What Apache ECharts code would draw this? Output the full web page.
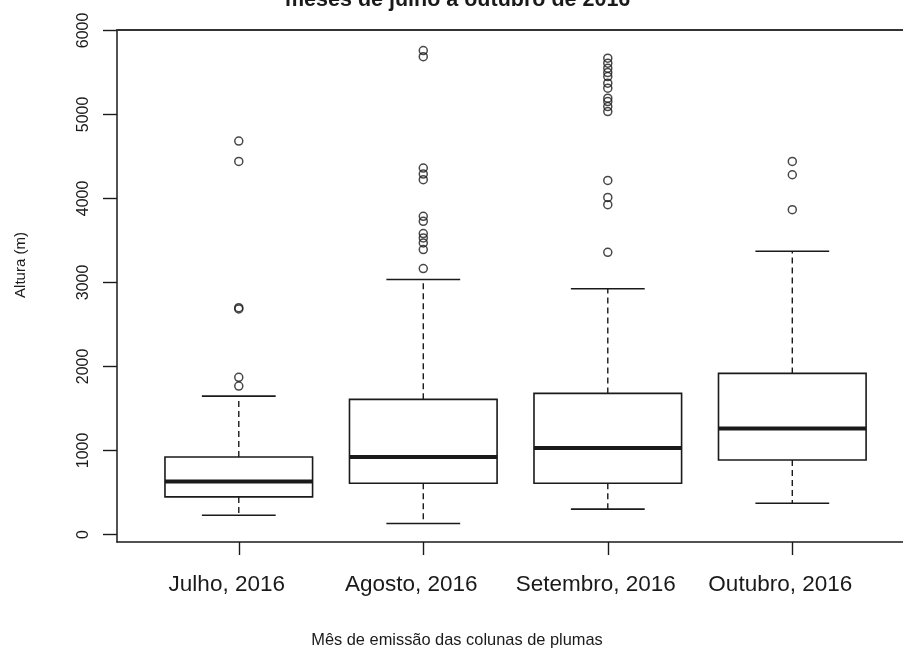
<!DOCTYPE html>
<html>
<head>
<meta charset="utf-8">
<script src="https://cdn.jsdelivr.net/npm/echarts@6/dist/echarts.min.js"></script>
<style>html,body{margin:0;padding:0;background:#fff}#c{width:903px;height:653px}</style>
</head>
<body>
<div id="c"></div>
<script>
const categories = ['Julho, 2016', 'Agosto, 2016', 'Setembro, 2016', 'Outubro, 2016'];
const whiskerLow = [229, 131, 301, 372];
const q1 = [447, 610, 610, 887];
const median = [630, 922, 1029, 1260];
const q3 = [922, 1608, 1679, 1917];
const whiskerHigh = [1647, 3034, 2924, 3371];
const outJulho = [4683, 4440, 2700, 2685, 1870, 1766];
const outAgosto = [5760, 5688, 4362, 4290, 4223, 3787, 3727, 3581, 3530, 3470, 3391, 3165];
const outSetembro = [5669, 5610, 5550, 5498, 5450, 5372, 5312, 5194, 5153, 5094, 5034, 4214, 4012, 3926, 3359];
const outOutubro = [4440, 4282, 3866];
const yTicks = [0, 1000, 2000, 3000, 4000, 5000, 6000];
const xTicks = [1, 2, 3, 4];
const titleText = 'meses de julho a outubro de 2016';
const xName = 'Mês de emissão das colunas de plumas';
const yName = 'Altura (m)';

const FONT = '"Liberation Sans", Arial, sans-serif';
const INK = '#1a1a1a';
const X_MIN = 0.34, X_MAX = 4.6;

const boxData = categories.map((c, i) => [i + 1, whiskerLow[i], q1[i], median[i], q3[i], whiskerHigh[i]]);
const outliers = [outJulho, outAgosto, outSetembro, outOutubro];
const outData = [];
outliers.forEach((arr, i) => arr.forEach(v => outData.push([i + 1, v])));

const chart = echarts.init(document.getElementById('c'), null, {renderer: 'canvas'});
chart.setOption({
  animation: false,
  backgroundColor: '#fff',
  title: {
    text: titleText,
    left: 285,
    top: -11,
    padding: 0,
    textStyle: {fontFamily: FONT, fontSize: 21.5, fontWeight: 'bold', color: INK}
  },
  grid: {left: 117, right: 0, top: 30, bottom: 110},
  xAxis: [
    {
      type: 'value', min: X_MIN, max: X_MAX, position: 'bottom',
      name: xName, nameLocation: 'middle', nameGap: 90,
      nameTextStyle: {fontFamily: FONT, fontSize: 16.4, color: INK, padding: [0, 106, 0, 0]},
      splitLine: {show: false},
      axisLine: {show: true, onZero: false, lineStyle: {color: INK, width: 1.5}},
      axisTick: {show: true, customValues: xTicks, length: 13, lineStyle: {color: INK, width: 1.4}},
      axisLabel: {
        customValues: xTicks, margin: 31,
        fontFamily: FONT, fontSize: 22.5, color: INK, padding: [0, 24, 0, 0],
        formatter: v => categories[Math.round(v) - 1] || ''
      }
    },
    {
      type: 'value', min: X_MIN, max: X_MAX, position: 'top',
      splitLine: {show: false},
      axisLine: {show: true, onZero: false, lineStyle: {color: '#333', width: 1.8}},
      axisTick: {show: false},
      axisLabel: {show: false}
    }
  ],
  yAxis: {
    type: 'value', min: -90, max: 6005,
    name: yName, nameLocation: 'middle', nameGap: 89,
    nameTextStyle: {fontFamily: FONT, fontSize: 15, color: INK, padding: [0, 0, 0, 42]},
    splitLine: {show: false},
    axisLine: {show: true, onZero: false, lineStyle: {color: INK, width: 1.5}},
    axisTick: {show: true, customValues: yTicks, length: 14, lineStyle: {color: INK, width: 1.4}},
    axisLabel: {
      customValues: yTicks, rotate: 90, margin: 25,
      fontFamily: FONT, fontSize: 16, color: INK,
      formatter: v => String(v)
    }
  },
  series: [
    {
      type: 'custom',
      data: boxData,
      encode: {x: 0, y: [1, 2, 3, 4, 5]},
      renderItem: function (params, api) {
        const x = api.value(0);
        const pLow = api.coord([x, api.value(1)]);
        const pQ1 = api.coord([x, api.value(2)]);
        const pMed = api.coord([x, api.value(3)]);
        const pQ3 = api.coord([x, api.value(4)]);
        const pHigh = api.coord([x, api.value(5)]);
        const half = api.size([0.4, 0])[0];
        const stap = api.size([0.2, 0])[0];
        const cx = pMed[0];
        const line = (x1, y1, x2, y2, w, dash) => ({
          type: 'line',
          shape: {x1, y1, x2, y2},
          style: {stroke: INK, lineWidth: w, lineDash: dash || null}
        });
        return {
          type: 'group',
          children: [
            line(cx, pQ3[1], cx, pHigh[1], 1.4, [6, 4]),
            line(cx, pQ1[1], cx, pLow[1], 1.4, [6, 4]),
            line(cx - stap, pHigh[1], cx + stap, pHigh[1], 1.6),
            line(cx - stap, pLow[1], cx + stap, pLow[1], 1.6),
            {
              type: 'rect',
              shape: {x: cx - half, y: pQ3[1], width: 2 * half, height: pQ1[1] - pQ3[1]},
              style: {fill: '#fff', stroke: INK, lineWidth: 1.6}
            },
            line(cx - half, pMed[1], cx + half, pMed[1], 4)
          ]
        };
      },
      z: 2
    },
    {
      type: 'scatter',
      data: outData,
      symbol: 'circle',
      symbolSize: 8,
      itemStyle: {color: 'rgba(0,0,0,0)', borderColor: INK, borderWidth: 1.5},
      z: 3
    }
  ]
});
</script>
</body>
</html>
